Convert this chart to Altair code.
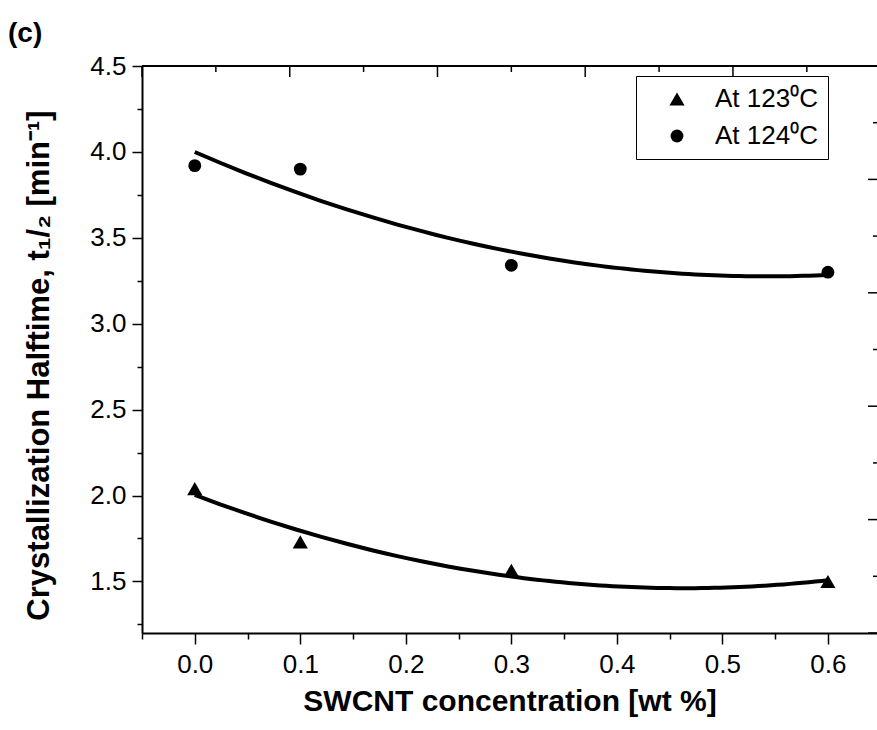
import altair as alt
import pandas as pd

# ---- data ----
conc = [0.0, 0.1, 0.3, 0.6]
t_123 = [2.04, 1.73, 1.565, 1.50]
t_124 = [3.92, 3.90, 3.34, 3.30]
series_labels = ["At 123\u2070C", "At 124\u2070C"]

# tick positions
x_ticks = [-0.05, 0.0, 0.05, 0.1, 0.15, 0.2, 0.25, 0.3, 0.35, 0.4, 0.45, 0.5, 0.55, 0.6]
y_ticks = [1.25, 1.5, 1.75, 2.0, 2.25, 2.5, 2.75, 3.0, 3.25, 3.5, 3.75, 4.0, 4.25, 4.5]
top_major = [-0.05, 0.09, 0.23, 0.37, 0.51]
top_minor = [0.02, 0.16, 0.30, 0.44, 0.58]
right_major = [1.2, 1.86, 2.52, 3.18, 3.84, 4.5]
right_minor = [1.53, 2.19, 2.85, 3.51, 4.17]

rows = []
for c, v in zip(conc, t_123):
    rows.append({"x": c, "y": v, "series": series_labels[0]})
for c, v in zip(conc, t_124):
    rows.append({"x": c, "y": v, "series": series_labels[1]})
df = pd.DataFrame(rows)

FONT = "Liberation Sans"
W, H = 735, 567

xs = alt.Scale(domain=[-0.05, 0.6465], nice=False, zero=False)
ys = alt.Scale(domain=[1.2, 4.5], nice=False, zero=False)

x_axis = alt.Axis(
    values=x_ticks,
    title="SWCNT concentration [wt %]",
    labelExpr="round(datum.value*100) % 10 == 0 ? format(datum.value, '.1f') : ''",
    tickSize={"condition": {"test": "round(datum.value*100) % 10 != 0", "value": 6}, "value": 11},
    labelPadding=7,
    labelFlush=False,
    labelOverlap=False,
    titleX=367.5,
    titleY=77,
    titleAlign="center",
    titleBaseline="alphabetic",
    grid=False,
)
y_axis = alt.Axis(
    values=y_ticks,
    title="Crystallization Halftime, t\u2081/\u2082 [min\u207b\u00b9]",
    labelExpr="round(datum.value*100) % 50 == 0 ? format(datum.value, '.1f') : ''",
    tickSize={"condition": {"test": "round(datum.value*100) % 50 != 0", "value": 5}, "value": 10},
    labelPadding=6,
    labelFlush=False,
    labelOverlap=False,
    titleAngle=270,
    titleX=-94,
    titleY=299,
    titleFontSize=31,
    titleAlign="center",
    titleBaseline="alphabetic",
    grid=False,
)

legend = alt.Legend(
    title=None,
    orient="none",
    legendX=494,
    legendY=10,
    strokeColor="black",
    padding=10,
    symbolFillColor="black",
    symbolStrokeColor="black",
    symbolOffset=18,
    labelOffset=25,
    rowPadding=11,
    labelFont=FONT,
    labelFontSize=26,
    labelColor="black",
)

fit = (
    alt.Chart(df)
    .transform_regression("x", "y", method="poly", order=2, groupby=["series"])
    .mark_line(color="black", strokeWidth=4)
    .encode(
        x=alt.X("x:Q", scale=xs, axis=x_axis),
        y=alt.Y("y:Q", scale=ys, axis=y_axis),
        detail="series:N",
    )
)

points = (
    alt.Chart(df)
    .mark_point(filled=True, opacity=1, color="black")
    .encode(
        x=alt.X("x:Q", scale=xs, axis=x_axis),
        y=alt.Y("y:Q", scale=ys, axis=y_axis),
        shape=alt.Shape(
            "series:N",
            scale=alt.Scale(domain=series_labels, range=["triangle-up", "circle"]),
            legend=legend,
        ),
        size=alt.Size(
            "series:N",
            scale=alt.Scale(domain=series_labels, range=[230, 165]),
            legend=legend,
        ),
    )
)

one = pd.DataFrame({"t": ["(c)"]})

top_line = alt.Chart(one).mark_rule(color="black", strokeWidth=2).encode(
    x=alt.value(0), x2=alt.value(W), y=alt.value(0)
)

top_major_df = pd.DataFrame({"v": top_major})
top_minor_df = pd.DataFrame({"v": top_minor})
right_major_df = pd.DataFrame({"v": right_major})
right_minor_df = pd.DataFrame({"v": right_minor})

top_major_ticks = alt.Chart(top_major_df).mark_rule(color="black", strokeWidth=1.5).encode(
    x=alt.X("v:Q", scale=xs, axis=x_axis), y=alt.value(0), y2=alt.value(11)
)
top_minor_ticks = alt.Chart(top_minor_df).mark_rule(color="black", strokeWidth=1.5).encode(
    x=alt.X("v:Q", scale=xs, axis=x_axis), y=alt.value(0), y2=alt.value(6)
)
right_major_ticks = alt.Chart(right_major_df).mark_rule(color="black", strokeWidth=1.5).encode(
    y=alt.Y("v:Q", scale=ys, axis=y_axis), x=alt.value(W - 9), x2=alt.value(W)
)
right_minor_ticks = alt.Chart(right_minor_df).mark_rule(color="black", strokeWidth=1.5).encode(
    y=alt.Y("v:Q", scale=ys, axis=y_axis), x=alt.value(W - 4), x2=alt.value(W)
)

label_c = alt.Chart(one).mark_text(
    font=FONT, fontSize=28, fontWeight="bold", align="left", baseline="alphabetic", color="black"
).encode(x=alt.value(-134), y=alt.value(-24), text="t:N")

chart = (
    alt.layer(
        fit,
        points,
        top_line,
        top_major_ticks,
        top_minor_ticks,
        right_major_ticks,
        right_minor_ticks,
        label_c,
    )
    .properties(
        width=W,
        height=H,
        autosize=alt.AutoSizeParams(type="none"),
        padding={"left": 142, "top": 66, "right": 0, "bottom": 97},
        background="white",
    )
    .configure_view(stroke=None)
    .configure_axis(
        domainColor="black",
        domainWidth=2,
        tickColor="black",
        tickWidth=1.5,
        labelFont=FONT,
        labelFontSize=26,
        labelColor="black",
        titleFont=FONT,
        titleFontSize=30,
        titleFontWeight="bold",
        titleColor="black",
    )
)

chart.save("out.html", embed_options={"renderer": "svg", "actions": False})
